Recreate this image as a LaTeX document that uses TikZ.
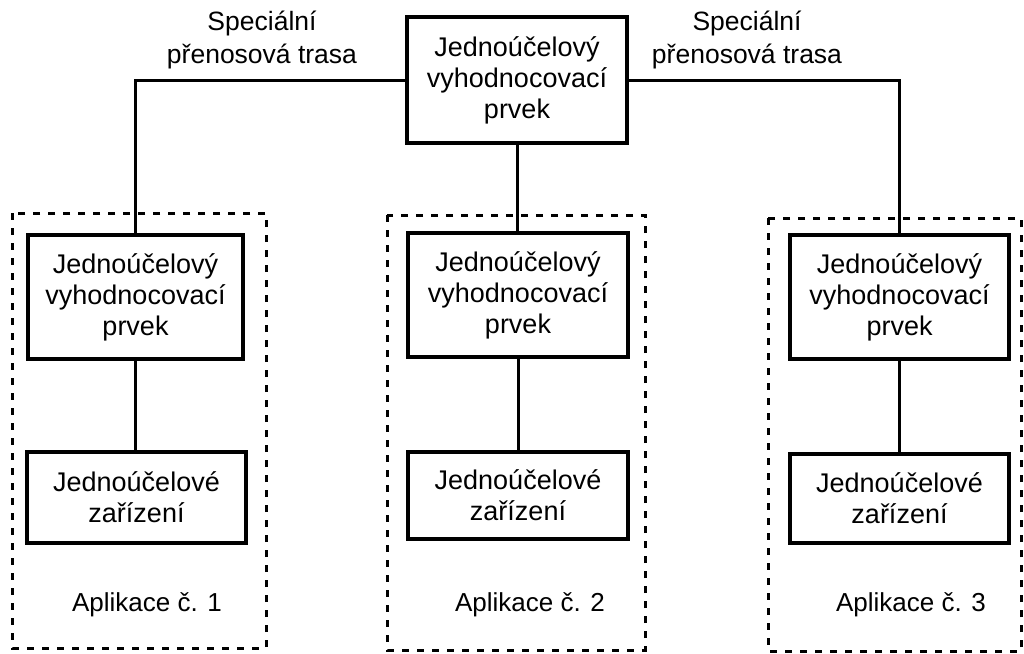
\documentclass[tikz,border=0pt]{standalone}
\usepackage{fontspec}
\setmainfont{Liberation Sans}
\begin{document}
\begin{tikzpicture}[x=1pt,y=-1pt,
  every node/.style={font=\fontsize{26}{31}\selectfont, align=center, inner sep=0pt},
  unit/.style={draw, line width=3.3pt, minimum width=#1, font=\fontsize{27}{31}\selectfont},
  route/.style={font=\fontsize{26.5}{33}\selectfont},
  app/.style={draw, line width=3pt, dash pattern=on 7pt off 8pt},
  link/.style={line width=3pt}
]
\useasboundingbox (0,0) rectangle (1024,653);

% dashed application frames
\draw[app] (12,213) rectangle (266,648);
\draw[app] (387,215) rectangle (645,650);
\draw[app] (768,218) rectangle (1021,651);

% central evaluation element
\node[unit=220pt, minimum height=126pt] (top) at (517,80)
  {Jednoúčelový\\vyhodnocovací\\prvek};

% per-application evaluation elements
\node[unit=215pt, minimum height=124pt] (u1) at (135.5,297)
  {Jednoúčelový\\vyhodnocovací\\prvek};
\node[unit=220pt, minimum height=124pt] (u2) at (518,295)
  {Jednoúčelový\\vyhodnocovací\\prvek};
\node[unit=219pt, minimum height=124pt] (u3) at (899.5,297)
  {Jednoúčelový\\vyhodnocovací\\prvek};

% single-purpose devices
\node[unit=219pt, minimum height=91pt] (d1) at (136.5,497.5)
  {Jednoúčelové\\zařízení};
\node[unit=220pt, minimum height=87pt] (d2) at (518,495.5)
  {Jednoúčelové\\zařízení};
\node[unit=219pt, minimum height=89pt] (d3) at (899.5,498.5)
  {Jednoúčelové\\zařízení};

% route labels
\node[route] (r1) at (262,40) {Speciální\\přenosová trasa};
\node[route] (r2) at (747,40) {Speciální\\přenosová trasa};

% application captions
\node (a1) at (147,605) {Aplikace č. 1};
\node (a2) at (530,605) {Aplikace č. 2};
\node (a3) at (911,605) {Aplikace č. 3};

% connections
\draw[link] (top.west) -| (u1.north);
\draw[link] (top.east) -| (u3.north);
\draw[link] (top.south) -- (top.south |- u2.north);
\draw[link] (u1.south) -- (u1.south |- d1.north);
\draw[link] (u2.south) -- (u2.south |- d2.north);
\draw[link] (u3.south) -- (u3.south |- d3.north);
\end{tikzpicture}
\end{document}
